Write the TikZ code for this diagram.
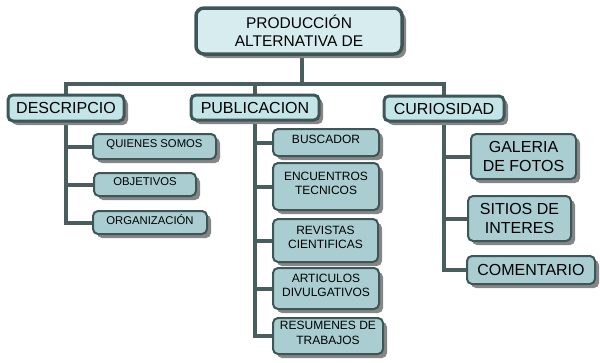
\documentclass[tikz,border=0pt]{standalone}
\usepackage{fontspec}
\setmainfont{Liberation Sans}
\usetikzlibrary{shadows,backgrounds}
\definecolor{topfill}{HTML}{D6ECEF}
\definecolor{lvlfill}{HTML}{C4E5E8}
\definecolor{kidfill}{HTML}{A9CDD0}
\definecolor{edgecol}{HTML}{3E5657}
\definecolor{wirecol}{HTML}{4A5E5E}
\definecolor{shadecol}{HTML}{868686}
\tikzset{
  base/.style={draw=edgecol, rounded corners=5pt, inner sep=0pt, outer sep=0pt,
    align=center, anchor=north west,
    drop shadow={shadow xshift=4pt, shadow yshift=-4pt, fill=shadecol, opacity=1}},
  topbox/.style={base, fill=topfill, line width=3.5pt, rounded corners=8pt,
    font=\fontsize{15.5}{18}\selectfont},
  lvlbox/.style={base, fill=lvlfill, line width=3pt, font=\fontsize{16}{18}\selectfont},
  kidS/.style={base, fill=kidfill, line width=2pt, text depth=5pt, font=\fontsize{11.3}{13}\selectfont},
  kidM/.style={base, fill=kidfill, line width=2pt, text depth=6pt, font=\fontsize{12}{14.5}\selectfont},
  kidL/.style={base, fill=kidfill, line width=2pt, font=\fontsize{16}{19}\selectfont},
  wire/.style={draw=wirecol, line width=4pt},
}
\begin{document}
\begin{tikzpicture}[x=1pt, y=-1pt]
\useasboundingbox (0,0) rectangle (600,362);
% boxes
\node[topbox, minimum width=206pt, minimum height=46pt] (top) at (196,8) {PRODUCCIÓN\\ALTERNATIVA DE};
\node[lvlbox, minimum width=116pt, minimum height=26pt] (desc) at (8,95) {DESCRIPCIO};
\node[lvlbox, minimum width=128pt, minimum height=25pt] (pub) at (191,95) {PUBLICACION};
\node[lvlbox, minimum width=120pt, minimum height=25pt] (cur) at (384,96) {CURIOSIDAD};
\node[kidS, minimum width=123pt, minimum height=25pt] (quien) at (93,134) {QUIENES SOMOS};
\node[kidS, minimum width=102pt, minimum height=23pt] (obj) at (94,173) {OBJETIVOS};
\node[kidS, minimum width=114pt, minimum height=23pt] (org) at (93,211) {ORGANIZACIÓN};
\node[kidM, minimum width=106pt, minimum height=27pt] (bus) at (273,129) {BUSCADOR};
\node[kidM, minimum width=106pt, minimum height=47pt] (enc) at (273,163) {ENCUENTROS\\TECNICOS};
\node[kidM, minimum width=105pt, minimum height=43pt] (rev) at (273,219) {REVISTAS\\CIENTIFICAS};
\node[kidM, minimum width=106pt, minimum height=41pt] (art) at (273,268) {ARTICULOS\\DIVULGATIVOS};
\node[kidM, minimum width=110pt, minimum height=36pt] (res) at (273,318) {RESUMENES DE\\TRABAJOS};
\node[kidL, minimum width=105pt, minimum height=45pt] (gal) at (471,134) {GALERIA\\DE FOTOS};
\node[kidL, minimum width=103pt, minimum height=45pt] (sit) at (468,196) {SITIOS DE\\INTERES};
\node[kidL, minimum width=128pt, minimum height=28pt] (com) at (467,256) {COMENTARIO};
\coordinate (hub) at (302,84);
% connectors
\begin{pgfonlayer}{background}
\draw[wire] (hub |- top.south) -- (hub);
\draw[wire] (desc.center) |- (hub) -| (cur.center);
\draw[wire] (pub.center) -- (pub.center |- hub);
\draw[wire] (desc.center) |- (org.west);
\draw[wire] (desc.center |- quien.west) -- (quien.west);
\draw[wire] (desc.center |- obj.west) -- (obj.west);
\draw[wire] (pub.center) |- (res.west);
\draw[wire] (pub.center |- bus.west) -- (bus.west);
\draw[wire] (pub.center |- enc.west) -- (enc.west);
\draw[wire] (pub.center |- rev.west) -- (rev.west);
\draw[wire] (pub.center |- art.west) -- (art.west);
\draw[wire] (cur.center) |- (com.west);
\draw[wire] (cur.center |- gal.west) -- (gal.west);
\draw[wire] (cur.center |- sit.west) -- (sit.west);
\end{pgfonlayer}
\end{tikzpicture}
\end{document}
